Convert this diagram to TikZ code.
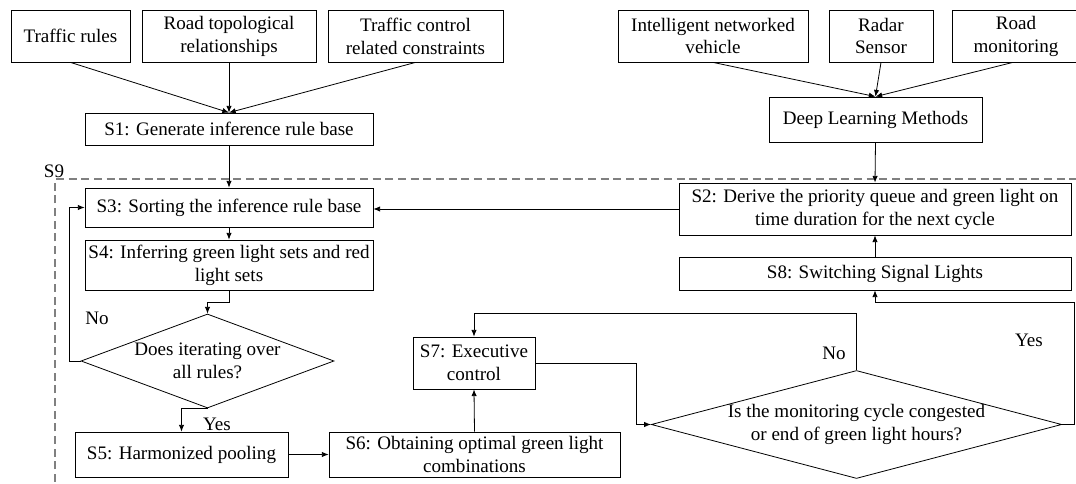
\documentclass[tikz,border=0pt]{standalone}
\usepackage{fontspec}
\setmainfont{Liberation Serif}
\usepackage{tikz}
\usetikzlibrary{shapes.geometric,arrows.meta}

\begin{document}
\begin{tikzpicture}[x=0.75pt,y=-0.75pt,
        font=\fontsize{14.3}{17.2}\selectfont,
        every path/.style={line width=0.6pt},
        box/.style={draw, align=center, inner sep=1pt, anchor=center},
        dec/.style={draw, diamond, align=center, inner sep=0pt},
        arr/.style={-{Latex[length=5pt,width=4pt]}},
        lbl/.style={inner sep=0pt}]
  \useasboundingbox (0,0) rectangle (1076,484);

  \draw[gray, dash pattern=on 6pt off 3.5pt, line width=0.9pt] (55,520) rectangle (1110,179);
  \node[lbl] (s9lbl) at (54,171) {S9};

  \node[box, minimum width=89.25pt, minimum height=39pt] (tr) at (70.5,36) {Traffic rules};
  \node[box, minimum width=130.5pt, minimum height=39pt] (rt) at (229,36) {Road topological\\relationships};
  \node[box, minimum width=131.25pt, minimum height=39pt] (tc) at (415.5,36) {Traffic control\\related constraints};
  \node[box, minimum width=142.5pt, minimum height=39pt] (inv) at (713,36) {Intelligent networked\\vehicle};
  \node[box, minimum width=78pt, minimum height=39pt] (rad) at (881,36) {Radar\\Sensor};
  \node[box, minimum width=96pt, minimum height=39pt] (rm) at (1016,36) {Road\\monitoring};

  \node[box, minimum width=216pt, minimum height=24pt] (s1) at (229,129) {S1: Generate inference rule base};
  \node[box, minimum width=159.75pt, minimum height=33.75pt] (dl) at (875.5,119.5) {Deep Learning Methods};

  \node[box, minimum width=216pt, minimum height=29.25pt] (s3) at (229,207.5) {S3: Sorting the inference rule base};
  \node[box, minimum width=216pt, minimum height=37.5pt] (s4) at (229,265) {S4: Inferring green light sets and red\\light sets};
  \node[dec, shape aspect=2.7, minimum width=189.75pt, minimum height=70.5pt] (d1) at (207.5,361) {Does iterating over\\all rules?};
  \node[box, minimum width=159.75pt, minimum height=33.75pt] (s5) at (181.5,454.5) {S5: Harmonized pooling};
  \node[box, minimum width=218.25pt, minimum height=33.75pt] (s6) at (474.5,454.5) {S6: Obtaining optimal green light\\combinations};
  \node[box, minimum width=91.5pt, minimum height=39pt] (s7) at (474,363) {S7: Executive\\control};
  \node[dec, shape aspect=3.8, minimum width=303.75pt, minimum height=80.25pt] (d2) at (856.5,424.5) {Is the monitoring cycle congested\\or end of green light hours?};

  \node[box, minimum width=294pt, minimum height=39pt] (s2) at (875,209) {S2: Derive the priority queue and green light on\\time duration for the next cycle};
  \node[box, minimum width=294pt, minimum height=24.75pt] (s8) at (875,273.5) {S8: Switching Signal Lights};

  \node[lbl] (no1) at (97,318) {No};
  \node[lbl] (yes1) at (217,424) {Yes};
  \node[lbl] (no2) at (834,353) {No};
  \node[lbl] (yes2) at (1029,340) {Yes};

  \draw[arr] (tr.south) -- (s1.north);
  \draw[arr] (rt.south) -- (s1.north);
  \draw[arr] (tc.south) -- (s1.north);
  \draw[arr] (inv.south) -- (dl.north);
  \draw[arr] (rad.south) -- (dl.north);
  \draw[arr] ([xshift=-2.25pt]rm.south) -- (dl.north);
  \draw[arr] (dl.south) -- (s2.north);
  \draw[arr] (s1.south) -- (s3.north);
  \draw[arr] (s3.south) -- (s4.north);
  \draw[arr] (s4.south) -- ++(0,12) -| (d1.north);
  \draw[arr] (d1.west) -- ++(-11,0) |- (s3.west);
  \draw[arr] (d1.south) -| (s5.north);
  \draw[arr] (s5.east) -- (s6.west);
  \draw[arr] (s6.north) -- (s7.south);
  \draw[arr] (s7.east) -| ([xshift=-11.25pt]d2.west) -- (d2.west);
  \draw[arr] (d2.north) -- ++(0,-57) -| (s7.north);
  \draw[arr] (d2.east) -- ++(12,0) -- ++(0,-122.5) -| (s8.south);
  \draw[arr] (s8.north) -- (s2.south);
  \draw[arr] (s2.west) -- (s2.west -| s3.east);
\end{tikzpicture}
\end{document}
